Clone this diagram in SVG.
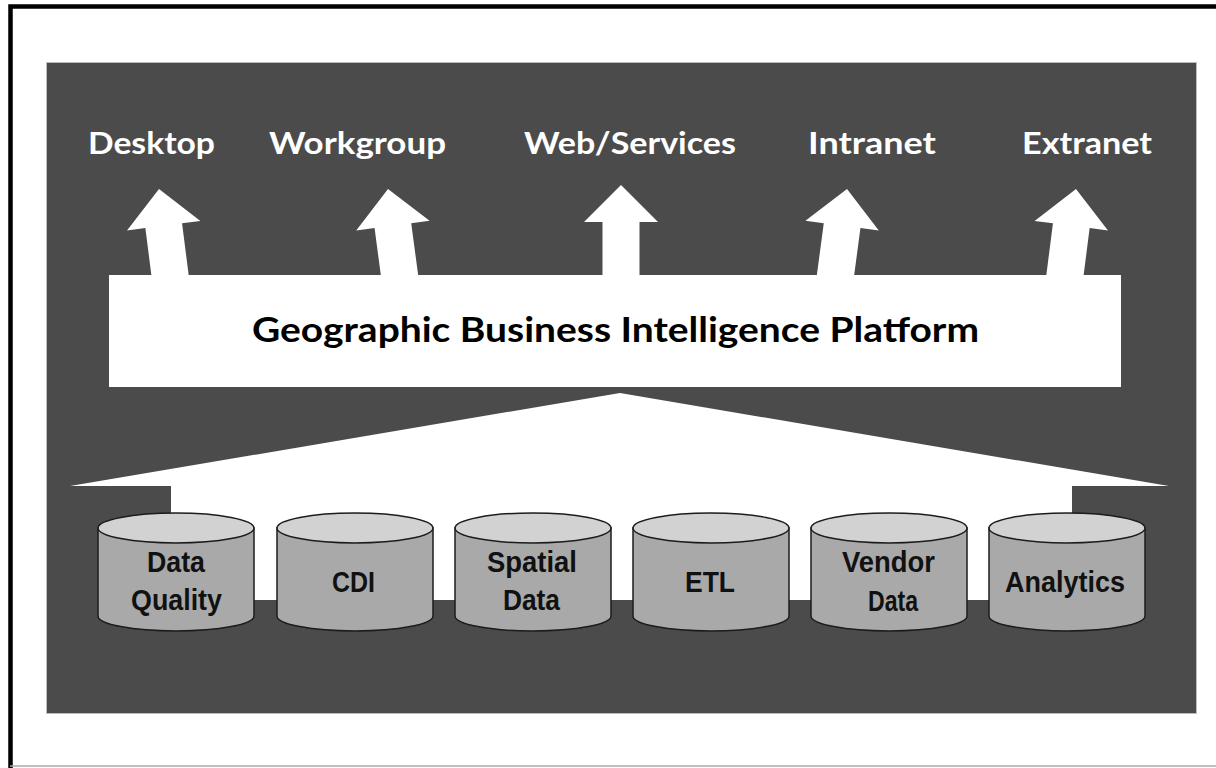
<svg xmlns="http://www.w3.org/2000/svg" width="1216" height="768" viewBox="0 0 1216 768">
  <defs>
    <style>
      .label { font-family: Lato, "Open Sans", "Liberation Sans", sans-serif; font-weight: 700; font-size: 30px; fill: #ffffff; }
      .title { font-family: Lato, "Open Sans", "Liberation Sans", sans-serif; font-weight: 700; font-size: 35px; fill: #000000; }
      .db-text { font-family: "Liberation Sans Narrow", "Liberation Sans", Arial, sans-serif; font-weight: 700; font-size: 29px; fill: #111111; }
      .db-body { fill: #a9a9a9; stroke: #1c1c1c; stroke-width: 1.5; }
      .db-top { fill: #d2d2d2; stroke: #1c1c1c; stroke-width: 1.5; }
      .arrow { fill: #ffffff; }
    </style>
    <!-- block arrow, apex at origin, pointing up -->
    <path id="up-arrow" d="M0,0 L-37,37 L-18.5,37 L-18.5,115 L18.5,115 L18.5,37 L37,37 Z"/>
    <!-- cylinder outline, left edge at x=0 -->
    <g id="cylinder">
      <path class="db-body" d="M0,528 L0,616 A78,15 0 0 0 156,616 L156,528 Z"/>
      <ellipse class="db-top" cx="78" cy="528" rx="78" ry="15"/>
    </g>
  </defs>

  <!-- page frame -->
  <rect x="0" y="0" width="1216" height="768" fill="#ffffff"/>
  <path d="M10.5,768 V6.5 H1216" fill="none" stroke="#000000" stroke-width="4.5"/>
  <line x1="10" y1="766" x2="1216" y2="766" stroke="#a8a8a8" stroke-width="1.5"/>

  <!-- dark background panel -->
  <rect id="panel" x="46.5" y="62.5" width="1150" height="651" fill="#4b4b4b" stroke="#bdbdbd" stroke-width="1"/>

  <!-- connectors: output arrows and the data funnel -->
  <g id="connectors" class="arrow">
    <use href="#up-arrow" transform="translate(159,189) rotate(-7.3)"/>
    <use href="#up-arrow" transform="translate(388,189) rotate(-7.6)"/>
    <use href="#up-arrow" transform="translate(621,185)"/>
    <use href="#up-arrow" transform="translate(847,189) rotate(7.6)"/>
    <use href="#up-arrow" transform="translate(1076,189) rotate(7.3)"/>
    <polygon id="funnel" points="620,393 1169,486 1072,486 1072,600 171,600 171,486 70,486"/>
  </g>

  <!-- channel labels -->
  <g id="desktop"><text class="label" x="88" y="154" textLength="127" lengthAdjust="spacingAndGlyphs">Desktop</text></g>
  <g id="workgroup"><text class="label" x="269" y="154" textLength="177" lengthAdjust="spacingAndGlyphs">Workgroup</text></g>
  <g id="web-services"><text class="label" x="524" y="154" textLength="212" lengthAdjust="spacingAndGlyphs">Web/Services</text></g>
  <g id="intranet"><text class="label" x="808" y="154" textLength="128" lengthAdjust="spacingAndGlyphs">Intranet</text></g>
  <g id="extranet"><text class="label" x="1022" y="154" textLength="130" lengthAdjust="spacingAndGlyphs">Extranet</text></g>

  <!-- platform -->
  <g id="platform">
    <rect x="109" y="275" width="1012" height="112" fill="#ffffff"/>
    <text class="title" x="252" y="342" textLength="727" lengthAdjust="spacingAndGlyphs">Geographic Business Intelligence Platform</text>
  </g>

  <!-- data sources -->
  <g id="data-quality">
    <use href="#cylinder" transform="translate(98,0)"/>
    <text class="db-text" x="147" y="572" textLength="58" lengthAdjust="spacingAndGlyphs">Data</text>
    <text class="db-text" x="131" y="610" textLength="91" lengthAdjust="spacingAndGlyphs">Quality</text>
  </g>
  <g id="cdi">
    <use href="#cylinder" transform="translate(277,0)"/>
    <text class="db-text" x="332" y="592" textLength="43" lengthAdjust="spacingAndGlyphs">CDI</text>
  </g>
  <g id="spatial-data">
    <use href="#cylinder" transform="translate(455,0)"/>
    <text class="db-text" x="487" y="572" textLength="90" lengthAdjust="spacingAndGlyphs">Spatial</text>
    <text class="db-text" x="503" y="610" textLength="57" lengthAdjust="spacingAndGlyphs">Data</text>
  </g>
  <g id="etl">
    <use href="#cylinder" transform="translate(633,0)"/>
    <text class="db-text" x="685" y="592" textLength="50" lengthAdjust="spacingAndGlyphs">ETL</text>
  </g>
  <g id="vendor-data">
    <use href="#cylinder" transform="translate(811,0)"/>
    <text class="db-text" x="842" y="572" textLength="93" lengthAdjust="spacingAndGlyphs">Vendor</text>
    <text class="db-text" x="868" y="611" textLength="50" lengthAdjust="spacingAndGlyphs">Data</text>
  </g>
  <g id="analytics">
    <use href="#cylinder" transform="translate(989,0)"/>
    <text class="db-text" x="1005" y="592" textLength="120" lengthAdjust="spacingAndGlyphs">Analytics</text>
  </g>
</svg>
